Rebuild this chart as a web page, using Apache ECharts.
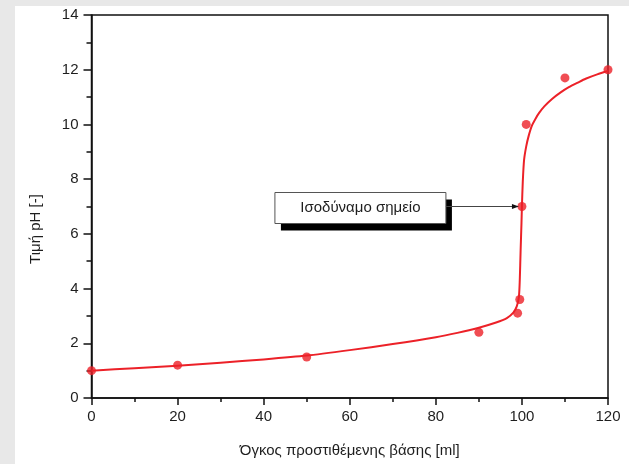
<!DOCTYPE html>
<html>
<head>
<meta charset="utf-8">
<script src="https://cdn.jsdelivr.net/npm/echarts@6/dist/echarts.min.js"></script>
<style>
  html, body { margin: 0; padding: 0; }
  body { width: 629px; height: 464px; background: #e8e8e8; position: relative; overflow: hidden; }
  .panel { position: absolute; left: 15px; top: 6px; right: 0; bottom: 0; background: #fff; }
  #main { position: absolute; left: 0; top: 0; width: 629px; height: 464px; }
</style>
</head>
<body>
<div class="panel"></div>
<div id="main"></div>
<script>
// measured points (ml of base added, pH)
const titrantMl = [0, 20, 50, 90, 99, 99.5, 100, 101, 110, 120];
const measuredPh = [1.0, 1.2, 1.5, 2.4, 3.1, 3.6, 7.0, 10.0, 11.7, 12.0];

// fitted curve
const fitMl = [0, 10, 20, 30, 40, 50, 60, 70, 80, 85, 90, 94, 96.5, 98, 98.8, 99.3, 99.5, 99.7, 99.9, 100,
  100.2, 100.5, 101, 101.6, 102.3, 103.2, 104, 105.2, 107, 109, 110.9, 113, 114.8, 117.5, 120];
const fitPh = [1.0, 1.09, 1.18, 1.29, 1.41, 1.55, 1.75, 1.97, 2.22, 2.38, 2.57, 2.76, 2.92, 3.12, 3.35, 3.7, 4.3, 5.4, 6.4, 7.0,
  7.9, 8.7, 9.2, 9.6, 9.95, 10.22, 10.42, 10.66, 10.93, 11.17, 11.36, 11.53, 11.67, 11.83, 11.95];

const xTicks = [0, 20, 40, 60, 80, 100, 120];
const yTicks = [0, 2, 4, 6, 8, 10, 12, 14];

const noteText = 'Ισοδύναμο σημείο';
const notePoint = [100, 7.0];

const red = '#ec2128';
const ink = '#1e1e1e';
const font = '"Liberation Sans", Arial, sans-serif';

var chartDom = document.getElementById('main');
var myChart = echarts.init(chartDom, null, { renderer: 'canvas' });

var option = {
  animation: false,
  backgroundColor: 'transparent',
  textStyle: { fontFamily: font },
  grid: {
    left: 91.5,
    right: 21,
    top: 15,
    bottom: 66,
    show: true,
    borderColor: '#111',
    borderWidth: 1.5,
    backgroundColor: 'transparent'
  },
  xAxis: {
    type: 'value',
    min: xTicks[0],
    max: xTicks[xTicks.length - 1],
    interval: 20,
    name: 'Όγκος προστιθέμενης βάσης [ml]',
    nameLocation: 'middle',
    nameGap: 45,
    nameTextStyle: { fontSize: 15, color: ink, fontFamily: font },
    axisLine: { show: true, lineStyle: { color: '#111', width: 1.5 } },
    axisTick: { show: true, length: 7, lineStyle: { color: '#111', width: 1.5 } },
    minorTick: { show: true, splitNumber: 2, length: 4, lineStyle: { color: '#111', width: 1.5 } },
    axisLabel: { fontSize: 15, color: ink, margin: 11, fontFamily: font },
    splitLine: { show: false }
  },
  yAxis: {
    type: 'value',
    min: yTicks[0],
    max: yTicks[yTicks.length - 1],
    interval: 2,
    name: 'Τιμή pH [-]',
    nameLocation: 'middle',
    nameGap: 48,
    nameRotate: 90,
    nameTextStyle: { fontSize: 15, color: ink, fontFamily: font, padding: [0, 45, 0, 0] },
    axisLine: { show: true, lineStyle: { color: '#111', width: 1.5 } },
    axisTick: { show: true, length: 8, lineStyle: { color: '#111', width: 1.5 } },
    minorTick: { show: true, splitNumber: 2, length: 5, lineStyle: { color: '#111', width: 1.5 } },
    axisLabel: { fontSize: 15, color: ink, margin: 13, fontFamily: font },
    splitLine: { show: false }
  },
  series: [
    {
      name: 'fit',
      type: 'line',
      data: fitMl.map((x, i) => [x, fitPh[i]]),
      smooth: 0.25,
      showSymbol: false,
      lineStyle: { color: red, width: 2, join: 'round' },
      z: 2
    },
    {
      name: 'measured',
      type: 'scatter',
      data: titrantMl.map((x, i) => [x, measuredPh[i]]),
      symbol: 'circle',
      symbolSize: 9,
      itemStyle: { color: red },
      z: 3
    }
  ]
};
option && myChart.setOption(option);

// annotation box with arrow to the equivalence point
var p = myChart.convertToPixel({ seriesIndex: 1 }, notePoint);
var boxW = 171, boxH = 31, gap = 76;
var bx = p[0] - gap - boxW, by = p[1] - 14;
myChart.setOption({
  graphic: [
    {
      type: 'rect',
      shape: { x: bx + 6, y: by + 7, width: boxW, height: boxH },
      style: { fill: '#000' },
      z: 10
    },
    {
      type: 'rect',
      shape: { x: bx, y: by, width: boxW, height: boxH },
      style: { fill: '#fff', stroke: '#555', lineWidth: 1 },
      z: 11
    },
    {
      type: 'text',
      x: bx + boxW / 2,
      y: by + boxH / 2,
      style: { text: noteText, fontSize: 15, fill: ink, fontFamily: font, align: 'center', verticalAlign: 'middle' },
      z: 12
    },
    {
      type: 'line',
      shape: { x1: bx + boxW, y1: p[1], x2: p[0] - 8, y2: p[1] },
      style: { stroke: '#444', lineWidth: 1 },
      z: 12
    },
    {
      type: 'polygon',
      shape: { points: [[p[0] - 3, p[1]], [p[0] - 10, p[1] - 2.5], [p[0] - 10, p[1] + 2.5]] },
      style: { fill: '#111' },
      z: 12
    }
  ]
});
</script>
</body>
</html>
